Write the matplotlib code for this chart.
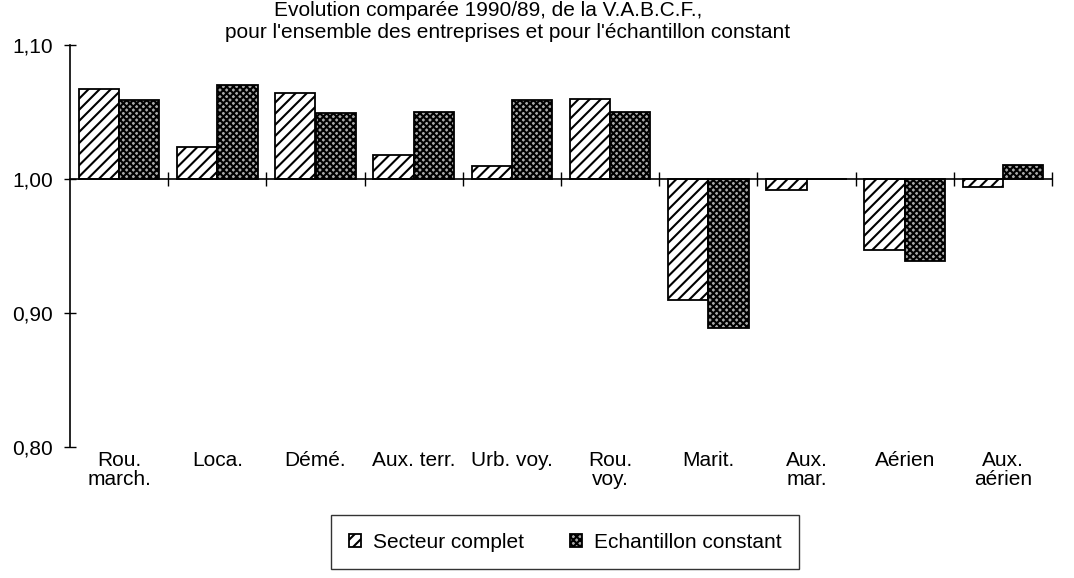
import numpy as np
import matplotlib.pyplot as plt
from matplotlib.ticker import FixedLocator, NullFormatter

plt.rcParams['font.family'] = ['Liberation Sans', 'DejaVu Sans']
plt.rcParams['hatch.linewidth'] = 1.5

# data
categories = ['Rou.\nmarch.', 'Loca.', 'Démé.', 'Aux. terr.', 'Urb. voy.',
              'Rou.\nvoy.', 'Marit.', 'Aux.\nmar.', 'Aérien', 'Aux.\naérien']
secteur_complet = [1.067, 1.024, 1.064, 1.018, 1.010, 1.060, 0.910, 0.992, 0.947, 0.994]
echantillon_constant = [1.059, 1.070, 1.049, 1.050, 1.059, 1.050, 0.889, 1.000, 0.939, 1.0105]
yticks = [0.80, 0.90, 1.00, 1.10]
ytick_labels = ['0,80', '0,90', '1,00', '1,10']

fig = plt.figure(figsize=(10.74, 5.78), dpi=100)
ax = fig.add_axes([70/1074, 1-447/578, (1052-70)/1074, (447-45)/578])

x = np.arange(len(categories))
w = 0.41
sc = np.array(secteur_complet)
ec = np.array(echantillon_constant)
ax.bar(x - w/2, sc - 1, w, bottom=1.0, facecolor='white', edgecolor='black',
       hatch='///', linewidth=1.3, label='Secteur complet')
ax.bar(x + w/2, ec - 1, w, bottom=1.0, facecolor='#a8a8a8', edgecolor='black',
       hatch='xxxxx', linewidth=1.3, label='Echantillon constant')

ax.set_xlim(-0.5, len(categories) - 0.5)
ax.set_ylim(0.80, 1.10)
ax.set_yticks(yticks)
ax.set_yticklabels(ytick_labels, fontsize=15)
ax.tick_params(axis='y', direction='inout', length=9, width=1, pad=8)

for s in ['top', 'right']:
    ax.spines[s].set_visible(False)
ax.spines['left'].set_linewidth(1.2)
ax.spines['bottom'].set_position(('data', 1.0))
ax.spines['bottom'].set_linewidth(1.2)
ax.xaxis.set_major_locator(FixedLocator(list(x[1:] - 0.5) + [len(categories) - 0.5]))
ax.xaxis.set_major_formatter(NullFormatter())
ax.tick_params(axis='x', direction='inout', length=10, width=1)

for i, lab in enumerate(categories):
    ax.annotate(lab, xy=(i, 0), xycoords=('data', 'axes fraction'),
                xytext=(0, -3), textcoords='offset points',
                ha='center', va='top', fontsize=15, linespacing=1.0)

fig.text(488/1074, 1-11/578, "Evolution comparée 1990/89, de la V.A.B.C.F.,",
         ha='center', va='center', fontsize=15)
fig.text(508/1074, 1-32/578, "pour l'ensemble des entreprises et pour l'échantillon constant",
         ha='center', va='center', fontsize=15)

leg = fig.legend(loc='center', bbox_to_anchor=(565/1074, 1-542/578), ncol=2,
                 fontsize=15, frameon=True, fancybox=False, handlelength=0.6,
                 handleheight=0.6, handletextpad=0.55, columnspacing=2.2,
                 borderpad=0.85)
leg.get_frame().set_edgecolor('black')
leg.get_frame().set_linewidth(1.0)

fig.savefig('out.png', dpi=100)
